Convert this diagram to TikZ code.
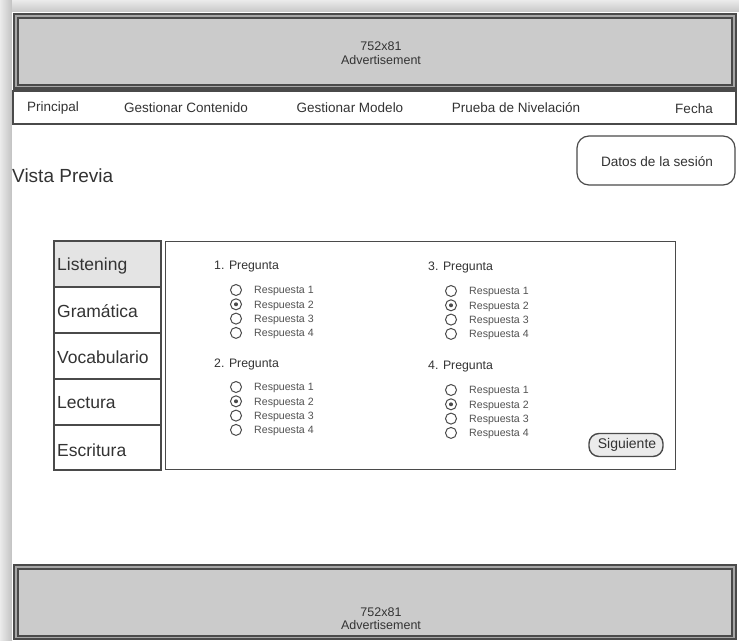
\documentclass[tikz,border=0pt]{standalone}
\usepackage{fontspec}
\setmainfont{Liberation Sans}
\definecolor{ink}{HTML}{333333}
\definecolor{rule}{HTML}{4A4A4A}
\definecolor{adfill}{HTML}{CBCBCB}
\definecolor{tabfill}{HTML}{E4E4E4}
\begin{document}
\begin{tikzpicture}[x=1pt,y=-1pt,
  txt/.style={inner sep=0pt, text=ink},
  navtxt/.style={txt, font=\fontsize{13.5}{15}\selectfont},
  adtxt/.style={txt, font=\fontsize{12.5}{13.5}\selectfont, align=center},
  tabbox/.style={draw=rule, line width=1.6pt, minimum width=107pt, minimum height=46pt,
                 inner sep=0pt, anchor=north west},
  tablabel/.style={txt, anchor=west, font=\fontsize{17.5}{19}\selectfont},
  qtitle/.style={txt, anchor=west, font=\fontsize{12.3}{14}\selectfont},
  answer/.style={txt, anchor=base west, text=ink!85, font=\fontsize{10.6}{12}\selectfont},
  radio/.style={circle, draw=rule, line width=1pt, minimum size=11pt, inner sep=0pt},
  pick/.style={circle, fill=rule, minimum size=4pt, inner sep=0pt}]

% canvas with the grey window shadow on the top and left
\useasboundingbox (0,0) rectangle (739,640);
\fill[black!18] (0,0) rectangle (739,640);
\shade[left color=black!8, right color=black!24] (0,0) rectangle (12,640);
\shade[top color=black!8, bottom color=black!22] (12,0) rectangle (739,12);
\fill[white] (12,12) rectangle (739,640);

% top advertisement banner
\draw[rule, line width=1.6pt, fill=black!35] (14,14) rectangle (736,89);
\draw[rule, line width=1.4pt, fill=adfill] (18,18) rectangle (732,85);
\node[adtxt] (adtop) at (381,53) {752x81\\Advertisement};

% navigation bar
\draw[rule, line width=1.5pt] (13,91) rectangle (736,124);
\fill[rule] (13,87) rectangle (736,92);
\node[navtxt] (nav1) at (53,108) {Principal};
\node[navtxt] (nav2) at (186,108) {Gestionar Contenido};
\node[navtxt] (nav3) at (350,108) {Gestionar Modelo};
\node[navtxt] (nav4) at (516,108) {Prueba de Nivelación};
\node[navtxt] (nav5) at (694,109) {Fecha};

% page title and session box
\node[txt, anchor=west, font=\fontsize{19}{21}\selectfont] (title) at (12,176) {Vista Previa};
\node[draw=rule, line width=1.2pt, rounded corners=12pt, minimum width=158pt, minimum height=49pt,
      inner sep=0pt] (sesion) at (656,160.5) {};
\node[txt, font=\fontsize{13.6}{15}\selectfont] (sesiontxt) at (657,162) {Datos de la sesión};

% section tabs
\node[tabbox, fill=tabfill] (t1) at (53,240) {};
\node[tabbox] (t2) at (53,286) {};
\node[tabbox] (t3) at (53,332) {};
\node[tabbox] (t4) at (53,378) {};
\node[tabbox, minimum height=45pt] (t5) at (53,424) {};
\node[tablabel] (l1) at (57,266) {Listening};
\node[tablabel] (l2) at (57,311) {Gramática};
\node[tablabel] (l3) at (57,357) {Vocabulario};
\node[tablabel] (l4) at (57,403) {Lectura};
\node[tablabel] (l5) at (57,450) {Escritura};

% question panel
\node[draw=rule, line width=1.4pt, minimum width=510pt, minimum height=228pt, inner sep=0pt,
      anchor=north west] (panel) at (165,241) {};

% four questions, each with four radio answers (the second one chosen)
\foreach \q/\tx/\rx/\ty/\ry in {1/214/236/267/290, 2/214/236/364/387, 3/428/451/267/291, 4/428/451/367/390}{
  \node[qtitle] (q\q) at (\tx,\ty) {\q. Pregunta};
  \foreach \a in {1,...,4}{
    \node[radio] (r\q\a) at (\rx,\ry+14.3*\a-14.3) {};
    \node[answer] (a\q\a) at (\rx+18,\ry+14.3*\a-10.5) {Respuesta \a};
  }
  \node[pick] (p\q) at (r\q2) {};
}

% next button
\node[draw=rule, line width=1.4pt, fill=black!8, rounded corners=10pt, minimum width=74pt,
      minimum height=23pt, inner sep=0pt] (next) at (626,445) {};
\node[txt, font=\fontsize{14}{16}\selectfont] (nexttxt) at (627,445) {Siguiente};

% bottom advertisement banner
\draw[rule, line width=1.6pt, fill=black!35] (14,565) rectangle (736,639);
\draw[rule, line width=1.4pt, fill=adfill] (18,569) rectangle (732,636);
\node[adtxt] (adbot) at (381,618.5) {752x81\\Advertisement};
\end{tikzpicture}
\end{document}
